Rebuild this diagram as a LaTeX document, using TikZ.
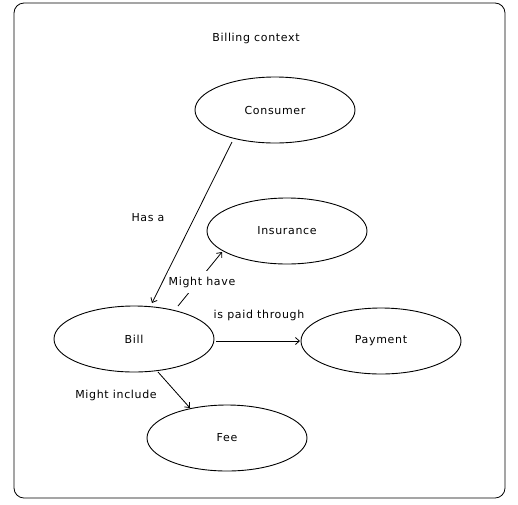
\documentclass[tikz,border=0pt]{standalone}
\usepackage{fontspec}
\setmainfont{DejaVu Sans}[LetterSpace=6]
\usetikzlibrary{shapes.geometric,arrows.meta}
\begin{document}
\begin{tikzpicture}[x=1pt,y=-1pt,
  ent/.style={ellipse,draw,line width=0.9pt,minimum width=160pt,minimum height=66pt,inner sep=0pt,font=\fontsize{11}{13}\selectfont},
  lbl/.style={font=\fontsize{11}{13}\selectfont,inner sep=1pt},
  conn/.style={draw,line width=0.8pt,-{Straight Barb[length=4pt,width=7pt]}}]
\useasboundingbox (0,0) rectangle (518,504);
\draw[line width=0.8pt,rounded corners=10pt] (14,3) rectangle (505,498);
\node[lbl] (title) at (256,38) {Billing context};
\node[ent] (consumer) at (275,110) {Consumer};
\node[ent] (insurance) at (287,231) {Insurance};
\node[ent] (bill) at (134,339) {Bill};
\node[ent] (payment) at (381,341) {Payment};
\node[ent] (fee) at (227,438) {Fee};
\coordinate (c1) at (232,142);
\coordinate (b1) at (152,303);
\coordinate (b2) at (178,306);
\coordinate (i1) at (222,252);
\coordinate (b3) at (216,341);
\coordinate (p1) at (300,341);
\coordinate (b4) at (158,372);
\coordinate (f1) at (190,408);
\draw[conn] (c1) -- (b1);
\draw[conn] (b2) -- (i1);
\draw[conn] (b3) -- (p1);
\draw[conn] (b4) -- (f1);
\node[lbl] (hasa) at (148,218) {Has a};
\node[lbl,fill=white,inner xsep=1pt,inner ysep=6pt] (mighthave) at (202,282) {Might have};
\node[lbl] (paid) at (259,315) {is paid through};
\node[lbl] (include) at (116,395) {Might include};
\end{tikzpicture}
\end{document}
